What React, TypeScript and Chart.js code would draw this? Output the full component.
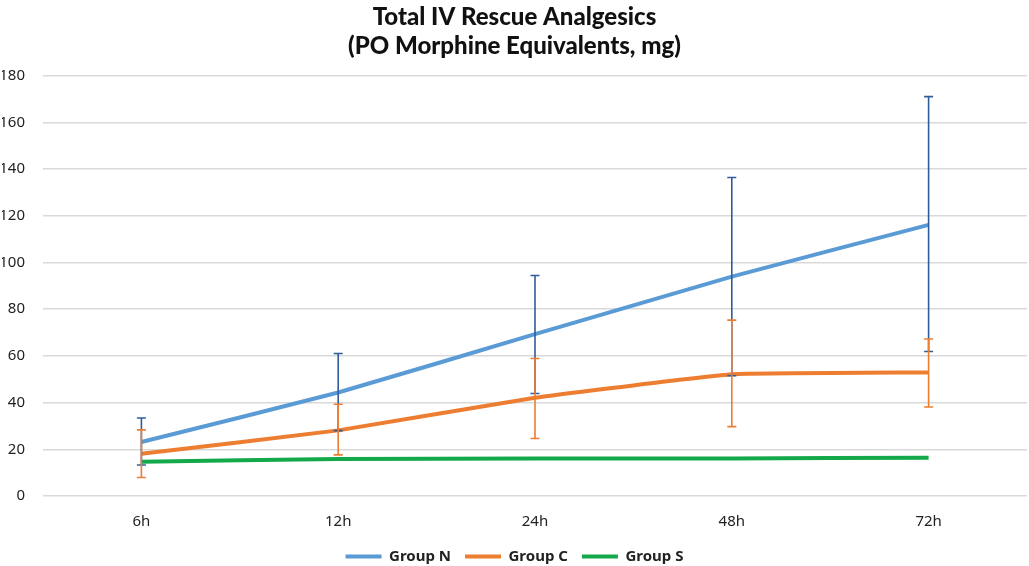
import React, { useEffect, useRef } from "react";
import { Chart, registerables } from "chart.js";

Chart.register(...registerables);

const categories = ["6h", "12h", "24h", "48h", "72h"];
const groupN = [23.1, 44.3, 69.3, 93.9, 116.1];
const groupNUpper = [33.4, 61.0, 94.4, 136.4, 171.0];
const groupNLower = [13.3, 28.0, 43.9, 51.5, 61.9];
const groupC = [18.1, 28.1, 42.1, 52.1, 52.9];
const groupCUpper = [28.3, 39.3, 58.9, 75.3, 67.2];
const groupCLower = [7.9, 17.6, 24.6, 29.7, 38.1];
const groupS = [14.7, 15.8, 16.1, 16.1, 16.4];
const yTicks = [0, 20, 40, 60, 80, 100, 120, 140, 160, 180];

const errorBarPlugin = {
  id: "errorBars",
  afterDatasetsDraw(chart: any) {
    const { ctx, scales } = chart;
    const y = scales.y;
    chart.data.datasets.forEach((ds: any, i: number) => {
      if (!ds.errUpper) return;
      const meta = chart.getDatasetMeta(i);
      ctx.save();
      ctx.strokeStyle = ds.errColor;
      ctx.lineWidth = 1.6;
      meta.data.forEach((pt: any, j: number) => {
        const x = pt.x;
        const yt = y.getPixelForValue(ds.errUpper[j]);
        const yb = y.getPixelForValue(ds.errLower[j]);
        ctx.beginPath();
        ctx.moveTo(x, yt);
        ctx.lineTo(x, yb);
        ctx.moveTo(x - 4.5, yt);
        ctx.lineTo(x + 4.5, yt);
        ctx.moveTo(x - 4.5, yb);
        ctx.lineTo(x + 4.5, yb);
        ctx.stroke();
      });
      ctx.restore();
    });
  },
};

export default function App() {
  const ref = useRef<HTMLCanvasElement>(null);
  useEffect(() => {
    document.body.style.margin = "0";
    const chart = new Chart(ref.current!, {
      type: "line",
      data: {
        labels: categories,
        datasets: [
          {
            label: "Group N",
            data: groupN,
            borderColor: "#5B9BD5",
            backgroundColor: "#5B9BD5",
            borderWidth: 4,
            pointRadius: 0,
            tension: 0.1,
            errUpper: groupNUpper,
            errLower: groupNLower,
            errColor: "#2F5D9A",
          } as any,
          {
            label: "Group C",
            data: groupC,
            borderColor: "#ED7D31",
            backgroundColor: "#ED7D31",
            borderWidth: 4,
            pointRadius: 0,
            tension: 0.1,
            errUpper: groupCUpper,
            errLower: groupCLower,
            errColor: "#ED7D31",
          } as any,
          {
            label: "Group S",
            data: groupS,
            borderColor: "#13A84A",
            backgroundColor: "#13A84A",
            borderWidth: 4,
            pointRadius: 0,
            tension: 0.1,
          },
        ],
      },
      options: {
        animation: false,
        responsive: false,
        layout: { padding: { left: 2, right: 2, top: 0, bottom: -8 } },
        plugins: {
          title: {
            display: true,
            text: ["Total IV Rescue Analgesics", "(PO Morphine Equivalents, mg)"],
            font: { family: "Lato", size: 24, weight: "900" },
            color: "#111",
            padding: { top: 3, bottom: 15 },
            lineHeight: 1.15,
          },
          legend: {
            position: "bottom",
            labels: {
              boxWidth: 36,
              boxHeight: 4,
              font: { family: "Noto Sans", size: 15, weight: "bold" },
              color: "#222",
              padding: 14,
              generateLabels(chart: any) {
                return chart.data.datasets.map((ds: any, i: number) => ({
                  text: ds.label,
                  strokeStyle: ds.borderColor,
                  fillStyle: ds.borderColor,
                  lineWidth: 0,
                  datasetIndex: i,
                  fontColor: "#222",
                }));
              },
            },
          },
          tooltip: { enabled: false },
        },
        scales: {
          x: {
            offset: true,
            grid: { display: false },
            border: { display: false },
            ticks: { font: { family: "Noto Sans", size: 15 }, color: "#222", padding: 9 },
            afterFit(axis: any) {
              axis.height = 39;
            },
          },
          y: {
            min: 0,
            max: 180,
            afterBuildTicks(axis: any) {
              axis.ticks = yTicks.map((v) => ({ value: v }));
            },
            grid: { color: "#D9D9D9", lineWidth: 1.5, drawTicks: false },
            border: { display: false },
            ticks: { font: { family: "Noto Sans", size: 15 }, color: "#222", padding: 18 },
            afterFit(axis: any) {
              axis.width = 41;
            },
          },
        },
      },
      plugins: [errorBarPlugin],
    });
    return () => chart.destroy();
  }, []);
  return <canvas ref={ref} width={1029} height={566} style={{ display: "block" }} />;
}
